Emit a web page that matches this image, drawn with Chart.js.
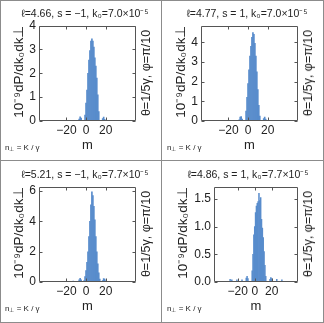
<!DOCTYPE html>
<html><head><meta charset="utf-8">
<script src="https://cdn.jsdelivr.net/npm/chart.js@4"></script>
<style>
html,body{margin:0;padding:0;background:#fff;}
#wrap{position:relative;width:324px;height:323px;overflow:hidden;font-family:"Liberation Sans",Arial,sans-serif;color:#222;}
.panel{position:absolute;width:162px;height:161px;}
.panel canvas{position:absolute;left:0;top:0;}
.side{position:absolute;font-size:12.5px;white-space:nowrap;transform:translate(-50%,-50%) rotate(-90deg);}
.note{position:absolute;font-size:8px;white-space:nowrap;}
.note sub{font-size:5.5px;vertical-align:-1px;}
.line{position:absolute;background:#8c8c8c;}
</style></head>
<body>
<div id="wrap"></div>
<script>
// ---- data ----
const titles = ['ℓ=4.66, s = −1, k₀=7.0×10⁻⁵','ℓ=4.77, s = 1, k₀=7.0×10⁻⁵','ℓ=5.21, s = −1, k₀=7.7×10⁻⁵','ℓ=4.86, s = 1, k₀=7.7×10⁻⁵'];
const yTitle = '10⁻⁹dP/dk₀dk⊥';
const xTitle = 'm';
const sideLabel = 'θ=1/5γ, φ=π/10';
const xTicks = [-20, 0, 20];
const yTicks1 = [0,1,2,3,4];
const yTicks2 = [0,1,2,3,4];
const yTicks3 = [0,1,2,3,4,5,6];
const yTicks4 = [0,0.5,1,1.5];
const yMax = [4, 4.85, 6.3, 1.72];

const m1 = [-7,-6,-5,-1,0,1,2,3,4,5,6,7,8,9,10,11,12,13,17,18,19];
const v1 = [0.08,0.17,0.12,0.25,0.75,1.3,2.0,2.55,2.95,3.35,3.45,3.35,3.1,2.65,2.3,1.8,1.1,0.4,0.1,0.16,0.07];

const m2 = [-9,-8,-7,-6,-2,-1,0,1,2,3,4,5,6,7,8,9,10,11,12,16,17,18];
const v2 = [0.06,0.2,0.22,0.1,0.5,1.2,1.9,2.6,3.3,3.8,4.25,4.5,4.4,3.95,3.3,2.5,1.6,0.8,0.25,0.12,0.2,0.1];

const m3 = [-30,-24,-17,-13,-7,-6,-5,-2,-1,0,1,2,3,4,5,6,7,8,9,10,11,12,13,14,17,18,19,20,26,30];
const v3 = [0.04,0.05,0.05,0.06,0.15,0.25,0.15,0.1,0.35,0.75,1.3,2.0,3.0,4.0,5.1,5.95,5.7,5.0,4.1,3.0,2.0,1.2,0.6,0.2,0.1,0.22,0.2,0.08,0.05,0.05];

const m4 = [-29,-27,-21,-15,-10,-9,-8,-3,-2,-1,0,1,2,3,4,5,6,7,8,9,10,11,12,13,18,19,20,26,32];
const v4 = [0.05,0.04,0.04,0.04,0.07,0.1,0.06,0.2,0.5,0.85,1.0,1.25,1.37,1.42,1.45,1.6,1.47,1.52,1.13,0.97,0.8,0.55,0.3,0.1,0.05,0.08,0.06,0.05,0.04];

const xMin = -31.5, xMax = 34.5;

// ---- layout ----
const series = [[m1,v1],[m2,v2],[m3,v3],[m4,v4]];
const yTickSets = [yTicks1,yTicks2,yTicks3,yTicks4];
const pos = [[0,0],[162,0],[0,161],[162,161]];
const padLeft = [8,8,8,10];
const yAxisW = [31,31,31,42];
const decimals = [0,0,0,1];

const wrap = document.getElementById('wrap');
function line(l,t,w,h){const d=document.createElement('div');d.className='line';d.style.cssText=`left:${l}px;top:${t}px;width:${w}px;height:${h}px`;wrap.appendChild(d);}
line(0,0,324,1);line(0,322,324,1);line(0,0,1,323);line(323,0,1,323);
line(161,0,1,323);line(0,160,324,1);

const framePlugin = {
  id:'frame',
  afterDatasetsDraw(chart){
    const {ctx, chartArea:a, scales} = chart;
    ctx.save();
    ctx.strokeStyle='#555'; ctx.lineWidth=1;
    const L=Math.round(a.left)+0.5, R=Math.round(a.right)-0.5, T=Math.round(a.top)+0.5, B=Math.round(a.bottom)-0.5;
    ctx.beginPath();
    ctx.rect(L,T,R-L,B-T);
    scales.x.ticks.forEach(t=>{const x=Math.round(scales.x.getPixelForValue(t.value))+0.5;ctx.moveTo(x,B);ctx.lineTo(x,B-3);ctx.moveTo(x,T);ctx.lineTo(x,T+3);});
    scales.y.ticks.forEach(t=>{const y=Math.round(scales.y.getPixelForValue(t.value))+0.5;ctx.moveTo(L,y);ctx.lineTo(L+3,y);ctx.moveTo(R,y);ctx.lineTo(R-3,y);});
    ctx.stroke();
    ctx.restore();
  }
};

const font = "'Liberation Sans', Arial, sans-serif";
series.forEach(([m,v],i)=>{
  const p=document.createElement('div');p.className='panel';
  p.style.left=pos[i][0]+'px';p.style.top=pos[i][1]+'px';
  const c=document.createElement('canvas');c.width=162;c.height=161;c.style.width='162px';c.style.height='161px';
  p.appendChild(c);
  const s=document.createElement('div');s.className='side';s.textContent=sideLabel;s.style.left='146px';s.style.top='73px';p.appendChild(s);
  const n=document.createElement('div');n.className='note';n.innerHTML='n<sub>⊥</sub> = K / γ';n.style.left='5px';n.style.top='143px';p.appendChild(n);
  wrap.appendChild(p);
  const yt = yTickSets[i];
  new Chart(c,{
    type:'bar',
    data:{datasets:[{data:m.map((x,k)=>({x:x,y:v[k]})),backgroundColor:'rgb(88,140,204)',borderWidth:0,barPercentage:1,categoryPercentage:1}]},
    options:{
      responsive:false,animation:false,
      layout:{padding:{left:padLeft[i],right:0,top:0,bottom:0}},
      plugins:{legend:{display:false},tooltip:{enabled:false},
        title:{display:true,text:titles[i],color:'#222',font:{family:font,size:10.5,weight:'normal'},padding:{top:8,bottom:5}}},
      scales:{
        x:{type:'linear',min:xMin,max:xMax,
          afterBuildTicks:sc=>{sc.ticks=xTicks.map(t=>({value:t}));},
          afterFit:sc=>{sc.height=40;},
          grid:{display:false,drawTicks:false},border:{display:false},
          ticks:{color:'#222',font:{family:font,size:12},padding:2,maxRotation:0,callback:val=>String(val).replace('-','−')},
          title:{display:true,text:xTitle,color:'#222',font:{family:font,size:13},padding:{top:0,bottom:8}}},
        y:{min:0,max:yMax[i],
          afterBuildTicks:sc=>{sc.ticks=yt.map(t=>({value:t}));},
          afterFit:sc=>{sc.width=yAxisW[i];},
          grid:{display:false,drawTicks:false},border:{display:false},
          ticks:{color:'#222',font:{family:font,size:12},padding:3,callback:val=>Number(val).toFixed(decimals[i])},
          title:{display:true,text:yTitle,align:'end',color:'#222',font:{family:font,size:13.5},padding:{top:3,bottom:0}}},
        y2:{position:'right',min:0,max:1,display:true,
          afterFit:sc=>{sc.width=26;},
          grid:{display:false,drawTicks:false},border:{display:false},ticks:{display:false}}
      }
    },
    plugins:[framePlugin]
  });
});
</script>
</body></html>
